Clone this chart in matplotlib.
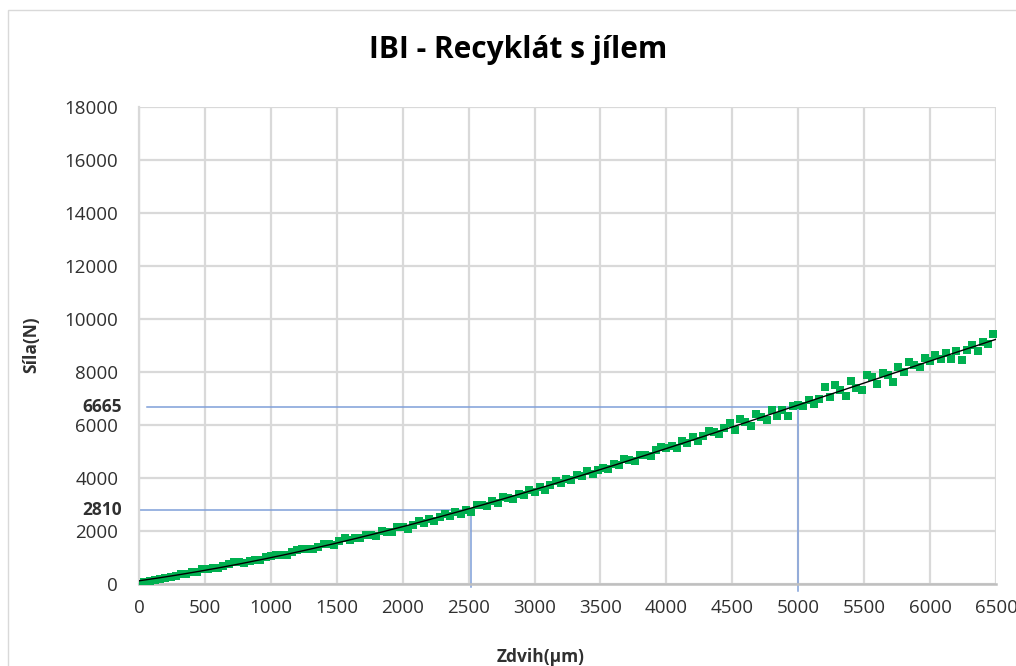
import matplotlib
matplotlib.use("Agg")
import matplotlib.pyplot as plt
import numpy as np
from matplotlib.patches import Rectangle

plt.rcParams["font.family"] = ["Open Sans", "DejaVu Sans"]

# zdvih (um), one reading every 40 um
zdvih = np.arange(0, 6481, 40)

sila = [
    0, 70, 120, 145, 205, 220, 280, 310, 365, 385,
    455, 450, 550, 570, 590, 595, 695, 755, 820, 820,
    810, 885, 905, 915, 1030, 1060, 1080, 1105, 1105, 1195,
    1290, 1310, 1310, 1305, 1415, 1505, 1520, 1480, 1605, 1730,
    1655, 1745, 1720, 1855, 1850, 1830, 1985, 1980, 1945, 2145,
    2140, 2075, 2240, 2360, 2285, 2440, 2365, 2530, 2660, 2575,
    2730, 2625, 2810, 2720, 2965, 2975, 2940, 3120, 3075, 3285,
    3250, 3220, 3415, 3375, 3550, 3480, 3650, 3545, 3745, 3880,
    3810, 3955, 3915, 4100, 4060, 4265, 4165, 4310, 4390, 4325,
    4520, 4495, 4700, 4690, 4655, 4860, 4865, 4820, 5040, 5185,
    5120, 5225, 5145, 5390, 5320, 5560, 5385, 5575, 5780, 5720,
    5645, 5905, 6070, 5820, 6225, 6115, 5960, 6400, 6285, 6180,
    6550, 6345, 6565, 6350, 6730, 6765, 6700, 6960, 6785, 6995,
    7430, 7050, 7525, 7320, 7080, 7645, 7415, 7310, 7900, 7800,
    7555, 7980, 7870, 7635, 8180, 8010, 8375, 8260, 8190, 8535,
    8430, 8645, 8500, 8705, 8510, 8780, 8455, 8820, 9005, 8810,
    9115, 9060, 9425,
]

# read-off points marked on the chart
odecet_x = [2520, 5000]
odecet_y = [2810, 6665]

x_ticks = list(range(0, 6501, 500))
y_ticks = list(range(0, 18001, 2000))

fig = plt.figure(figsize=(10.16, 6.66), dpi=100)
ax = fig.add_axes([0.1368, 0.1231, 0.8435, 0.7162])

grid_c = "#d9d9d9"
blue = "#7f9fd9"
txt_c = "#303030"

ax.set_xlim(0, 6500)
ax.set_ylim(0, 18000)
ax.set_xticks(x_ticks)
ax.set_yticks(y_ticks)
ax.grid(True, color=grid_c, linewidth=1.6)
ax.set_axisbelow(True)
for s in ["top", "right"]:
    ax.spines[s].set_visible(False)
ax.spines["left"].set_color(grid_c)
ax.spines["left"].set_linewidth(1.6)
ax.spines["bottom"].set_color("#bfbfbf")
ax.spines["bottom"].set_linewidth(1.8)
ax.tick_params(length=0, labelsize=13.5, labelcolor=txt_c)
ax.tick_params(axis="x", pad=11)
ax.tick_params(axis="y", pad=15)

# read-off lines
ax.plot([60, odecet_x[1]], [odecet_y[1], odecet_y[1]], color=blue, lw=1.1, zorder=2)
ax.plot([0, odecet_x[0]], [odecet_y[0], odecet_y[0]], color=blue, lw=1.1, zorder=2)
ax.plot([odecet_x[0], odecet_x[0]], [-100, odecet_y[0]], color=blue, lw=1.1,
        zorder=2, clip_on=False)
ax.plot([odecet_x[1], odecet_x[1]], [-250, odecet_y[1]], color=blue, lw=1.1,
        zorder=2, clip_on=False)

ax.plot(zdvih, sila, "s", color="#00b050", markersize=5.4, markeredgewidth=0, zorder=3)

# trend line
coef = np.polyfit(zdvih, sila, 3)
xt = np.linspace(0, 6500, 300)
ax.plot(xt, np.polyval(coef, xt), color="black", lw=1.0, zorder=4)

for v in odecet_y:
    ax.text(-17 * 6500 / 857, v, str(v), ha="right", va="center", fontsize=12.5,
            fontweight="bold", color=txt_c)

fig.text(0.51, 0.925, "IBI - Recyklát s jílem", ha="center", va="center",
         fontsize=21.5, fontweight="bold", color="black")
fig.text(0.031, 0.482, "Síla(N)", rotation=90, ha="center", va="center",
         fontsize=12.5, fontweight="bold", color=txt_c)
fig.text(0.532, 0.013, "Zdvih(μm)", ha="center", va="center",
         fontsize=12.5, fontweight="bold", color=txt_c)

fig.patches.append(Rectangle((0.008, -0.1), 1.2, 1.085, transform=fig.transFigure,
                             fill=False, edgecolor="#d9d9d9", lw=1.0))

fig.savefig("out.png", dpi=100)
